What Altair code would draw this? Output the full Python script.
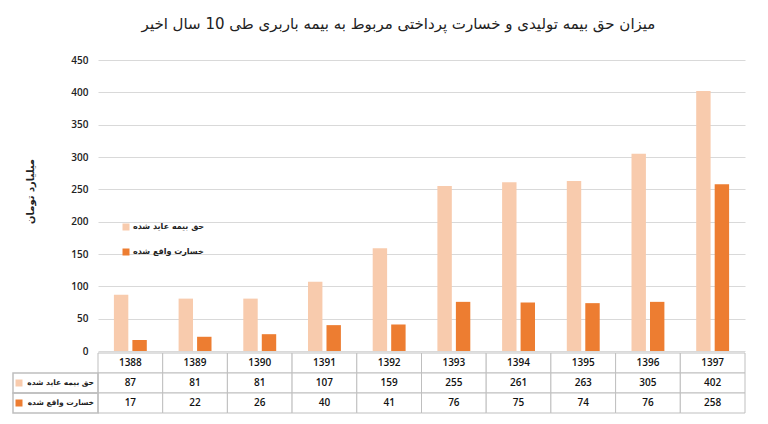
import altair as alt
import pandas as pd

years = ["1388", "1389", "1390", "1391", "1392", "1393", "1394", "1395", "1396", "1397"]
premium = [87, 81, 81, 107, 159, 255, 261, 263, 305, 402]
loss = [17, 22, 26, 40, 41, 76, 75, 74, 76, 258]
series_names = ["حق بیمه عاید شده", "خسارت واقع شده"]
y_ticks = [0, 50, 100, 150, 200, 250, 300, 350, 400, 450]
title_text = "میزان حق بیمه تولیدی و خسارت پرداختی مربوط به بیمه باربری طی 10 سال اخیر"
y_title = "میلیارد تومان"
colors = ["#F8CBAD", "#ED7D31"]
row_keys = ["year", "p", "l"]

bars_df = pd.DataFrame({
    "year": years * 2,
    "series": [series_names[0]] * len(years) + [series_names[1]] * len(years),
    "value": premium + loss,
})
table_df = pd.DataFrame({
    "year": years * 3,
    "row": ["year"] * len(years) + ["p"] * len(years) + ["l"] * len(years),
    "text": years + [str(v) for v in premium] + [str(v) for v in loss],
})
label_df = pd.DataFrame({"row": ["p", "l"], "series": series_names})

W, H = 647, 291
ROW_H = 20
LABEL_W = 85
NUM_FONT = "Open Sans"
FA_FONT = "DejaVu Sans"
BORDER = "#BFBFBF"

x_scale = alt.Scale(domain=years, paddingInner=0, paddingOuter=0)
xo_scale = alt.Scale(domain=series_names, paddingInner=0.22, paddingOuter=0.86)
color_scale = alt.Scale(domain=series_names, range=colors)
row_scale = alt.Scale(domain=row_keys, range=[H + 2, H + 2 + 3 * ROW_H], paddingInner=0, paddingOuter=0)

bars = alt.Chart(bars_df).mark_bar().encode(
    x=alt.X("year:N", scale=x_scale, sort=years, axis=None),
    xOffset=alt.XOffset("series:N", scale=xo_scale, sort=series_names),
    y=alt.Y(
        "value:Q",
        scale=alt.Scale(domain=[0, 450], nice=False),
        axis=alt.Axis(
            values=y_ticks, title=y_title, grid=True, gridColor="#D9D9D9",
            domain=False, ticks=False, labelPadding=10,
            labelFont=NUM_FONT, labelFontSize=10, labelFontWeight=600, labelColor="#222",
            titleFont=FA_FONT, titleFontSize=10, titleFontWeight="bold", titleColor="#222",
            titleX=-68, titleY=131, titleAngle=270, titleBaseline="middle", titleAlign="center",
        ),
    ),
    color=alt.Color(
        "series:N", scale=color_scale, sort=series_names,
        legend=alt.Legend(
            title=None, orient="none", legendX=24, legendY=163, padding=0,
            symbolType="square", symbolSize=49, symbolStrokeWidth=0, symbolOpacity=1,
            labelFont=FA_FONT, labelFontSize=8, labelFontWeight="bold", labelColor="#222",
            labelOffset=3, rowPadding=17,
        ),
    ),
)

table_rect = alt.Chart(table_df).mark_rect(fill="white", stroke=BORDER, strokeWidth=1).encode(
    x=alt.X("year:N", scale=x_scale, sort=years, axis=None),
    y=alt.Y("row:N", scale=row_scale, sort=row_keys, axis=None),
)
table_text = alt.Chart(table_df).mark_text(
    font=NUM_FONT, fontSize=10, fontWeight=600, color="#111", baseline="middle"
).encode(
    x=alt.X("year:N", scale=x_scale, sort=years, axis=None),
    y=alt.Y("row:N", scale=row_scale, sort=row_keys, axis=None),
    text="text:N",
)
label_text = alt.Chart(label_df).mark_text(
    font=FA_FONT, fontSize=7.5, fontWeight="bold", color="#222", align="right", baseline="middle"
).encode(
    x=alt.value(-4),
    y=alt.Y("row:N", scale=row_scale, sort=row_keys, axis=None),
    text="series:N",
)
label_sq = alt.Chart(label_df).mark_square(size=49, opacity=1).encode(
    x=alt.value(-79),
    y=alt.Y("row:N", scale=row_scale, sort=row_keys, axis=None),
    color=alt.Color("series:N", scale=color_scale, sort=series_names, legend=None),
)
# label-column cell borders drawn last, with a transparent fill
label_rect = alt.Chart(label_df).mark_rect(
    fill="white", fillOpacity=0, stroke=BORDER, strokeWidth=1.5, strokeOpacity=1
).encode(
    x=alt.value(-LABEL_W), x2=alt.value(0),
    y=alt.Y("row:N", scale=row_scale, sort=row_keys, axis=None),
)

chart = alt.layer(
    bars, table_rect, table_text, label_text, label_sq, label_rect
).resolve_scale(y="independent").properties(
    width=W, height=H,
    title=alt.TitleParams(title_text, font=FA_FONT, fontSize=15, fontWeight="normal",
                          color="#222", anchor="middle", offset=23, dx=-23),
    padding={"left": 4, "top": 9, "right": 5, "bottom": 5},
).configure_view(stroke=None)

chart.save("out.html", embed_options={"renderer": "svg", "actions": False})
